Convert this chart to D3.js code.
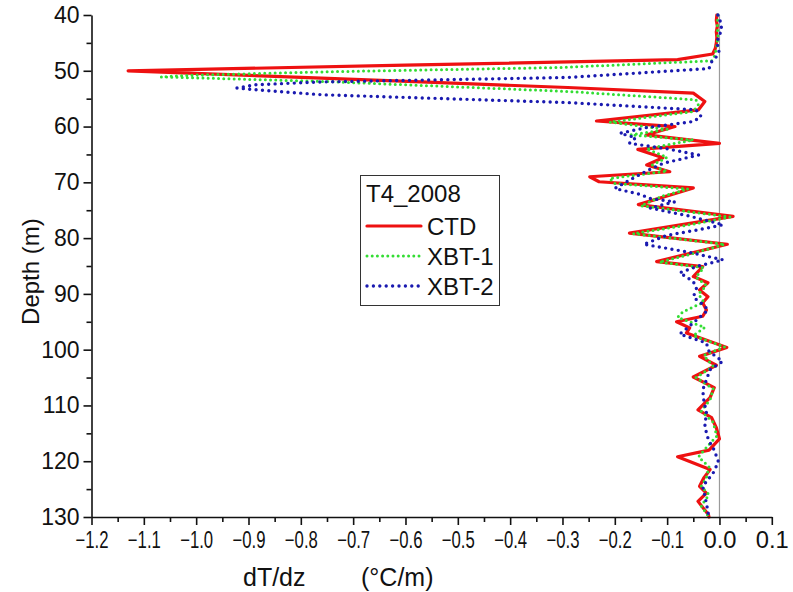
<!DOCTYPE html>
<html>
<head>
<meta charset="utf-8">
<script src="https://cdn.jsdelivr.net/npm/d3@7/dist/d3.min.js"></script>
<style>
  html, body { margin: 0; padding: 0; background: #fff; }
  svg text { font-family: "Liberation Sans", Arial, sans-serif; fill: #111; }
</style>
</head>
<body>
<svg id="chart" width="793" height="592"></svg>
<script>
// Vertical temperature-gradient profiles, station T4, 2008
const depthTicks = [40, 50, 60, 70, 80, 90, 100, 110, 120, 130];
const gradTicks = [-1.2, -1.1, -1.0, -0.9, -0.8, -0.7, -0.6, -0.5, -0.4, -0.3, -0.2, -0.1, 0.0, 0.1];
const seriesNames = ["CTD", "XBT-1", "XBT-2"];
const legendTitle = "T4_2008";

// CTD: depth (m) and dT/dz (°C/m)
const ctdDepth = [40, 41, 42, 43, 44, 45, 46, 47, 48, 49, 50, 51, 52, 53, 54, 55.5, 57, 59, 60, 61.5, 63,
  64.1, 65.6, 66.9, 68.1, 69, 69.9, 71, 74, 76.1, 79.1, 81.1, 84.2, 85.1, 86.9, 88, 89.3, 90.5, 91.6, 92.9, 94,
  95, 96.1, 97, 99.6, 101.2, 102.8, 104.9, 106.8, 108.6, 110.8, 112.2, 114, 116, 118, 119.2, 121.5, 123, 124.5,
  125.7, 127.2, 129.6, 130];
const ctdGrad = [-0.005, -0.006, -0.004, -0.006, -0.005, -0.006, -0.008, -0.013, -0.08, -0.60, -1.13, -0.85, -0.57, -0.29, -0.05, -0.028, -0.04, -0.235, -0.085, -0.14, 0.0,
  -0.156, -0.108, -0.139, -0.095, -0.248, -0.23, -0.05, -0.155, 0.026, -0.172, 0.015, -0.12, -0.032, -0.05, -0.022, -0.038, -0.022, -0.032, -0.025, -0.032,
  -0.082, -0.057, -0.063, 0.014, -0.038, -0.006, -0.05, -0.01, -0.018, -0.041, -0.015, -0.006, 0.0, -0.02, -0.08, -0.018, -0.03, -0.038,
  -0.025, -0.041, -0.021, -0.02];

// XBT-1
const xbt1Depth = [40, 42, 44, 46, 47.5, 48.2, 49.4, 50.2, 50.8, 51.1, 51.9, 53.7, 55.2, 56, 57.3, 59.2, 60.5, 61.5, 62.4,
  64, 65.5, 67, 68, 69.3, 70.2, 71.2, 72.5, 74.2, 76.2, 77.5, 79.2, 81.1, 83, 84.3, 85.3, 87, 88.5, 90, 91.5, 93.2,
  94.2, 96, 97.5, 99.5, 101, 103, 105, 107, 109, 111, 113, 115.5, 117, 119.2, 121, 123, 124.5, 126, 128, 130];
const xbt1Grad = [-0.003, -0.004, -0.003, -0.006, -0.01, -0.015, -0.30, -0.76, -1.01, -1.067, -0.76, -0.29, -0.045, -0.04, -0.05, -0.21, -0.1, -0.17, -0.05,
  -0.14, -0.1, -0.13, -0.1, -0.21, -0.2, -0.06, -0.11, -0.15, 0.02, -0.05, -0.165, 0.01, -0.06, -0.115, -0.03, -0.045, -0.025, -0.04, -0.03, -0.07,
  -0.08, -0.028, -0.05, 0.01, -0.03, -0.012, -0.045, -0.012, -0.018, -0.035, -0.012, -0.005, -0.02, -0.04, -0.02, -0.025, -0.035, -0.02, -0.035, -0.02];

// XBT-2
const xbt2Depth = [40, 41.5, 42.7, 44, 45.1, 46.3, 47.5, 48.4, 49.6, 51.2, 52, 52.5, 53.1, 53.4, 54.3, 55.7, 57, 58.2, 59.1,
  60.2, 61.2, 62, 63, 64, 65.1, 66.6, 68, 69.5, 71.1, 72.2, 72.9, 73.5, 74.6, 76, 77.6, 78.5, 79.5, 81.1, 82.5, 83.9,
  85, 86.2, 87.8, 89, 90.6, 92, 92.9, 94.7, 96, 97.2, 98.8, 100.3, 102.1, 103.6, 105.4, 107.2, 109, 111.3, 113.8,
  116.2, 118, 120.1, 122.1, 124.5, 127.5, 129.6];
const xbt2Grad = [-0.003, 0.003, 0.004, -0.002, -0.005, 0.0, -0.006, -0.015, -0.02, -0.29, -0.76, -0.886, -0.922, -0.886, -0.76, -0.29, -0.045, -0.035, -0.05,
  -0.14, -0.19, -0.16, -0.172, -0.1, -0.04, -0.108, -0.14, -0.17, -0.2, -0.15, -0.133, -0.085, -0.133, -0.06, 0.007, -0.04, -0.1, -0.145, -0.06, 0.007,
  -0.04, -0.076, -0.05, -0.044, -0.05, -0.03, -0.022, -0.044, -0.06, -0.076, -0.025, -0.02, 0.006, -0.018, -0.025, -0.032, -0.03, -0.025, -0.028,
  -0.021, -0.01, -0.002, -0.012, -0.032, -0.025, -0.021];

const svg = d3.select("#chart");
svg.append("rect").attr("width", 793).attr("height", 592).attr("fill", "#fff");

const x = d3.scaleLinear().domain([-1.2, 0.1]).range([91.5, 771.8]);
const y = d3.scaleLinear().domain([40, 130]).range([15, 517]);

// zero reference line
svg.append("line")
  .attr("x1", x(0)).attr("x2", x(0))
  .attr("y1", y(40)).attr("y2", y(130))
  .attr("stroke", "#9a9a9a").attr("stroke-width", 1.2);

const toPts = (ds, vs) => ds.map((d, i) => ({ d, v: vs[i] }));
const line = d3.line().x(p => x(p.v)).y(p => y(p.d));

const styles = [
  { color: "#ee1111", width: 3.2, dash: null },
  { color: "#33dd33", width: 3, dash: "0,5.2" },
  { color: "#1a1ab0", width: 3.4, dash: "0,6.4" }
];
const series = [toPts(ctdDepth, ctdGrad), toPts(xbt1Depth, xbt1Grad), toPts(xbt2Depth, xbt2Grad)];

series.forEach((pts, i) => {
  const s = styles[i];
  const p = svg.append("path")
    .attr("d", line(pts))
    .attr("fill", "none")
    .attr("stroke", s.color)
    .attr("stroke-width", s.width)
    .attr("stroke-linejoin", "round")
    .attr("stroke-linecap", "round");
  if (s.dash) p.attr("stroke-dasharray", s.dash);
});

// axes with major and minor ticks
const yMinor = d3.range(45, 130, 10);
const xMinor = d3.range(-1.15, 0.1, 0.1).map(v => +v.toFixed(2));

const yAxis = svg.append("g").attr("transform", `translate(${x(-1.2)},0)`)
  .call(d3.axisLeft(y).tickValues(depthTicks).tickSize(8).tickSizeOuter(0).tickPadding(4).tickFormat(d3.format("d")));
svg.append("g").attr("transform", `translate(${x(-1.2)},0)`)
  .call(d3.axisLeft(y).tickValues(yMinor).tickSize(5).tickFormat(""))
  .call(g => g.select(".domain").remove());

const xAxis = svg.append("g").attr("transform", `translate(0,${y(130)})`)
  .call(d3.axisBottom(x).tickValues(gradTicks).tickSize(8).tickSizeOuter(0).tickPadding(7).tickFormat(d3.format(".1f")));
svg.append("g").attr("transform", `translate(0,${y(130)})`)
  .call(d3.axisBottom(x).tickValues(xMinor).tickSize(5).tickFormat(""))
  .call(g => g.select(".domain").remove());

svg.selectAll(".domain, .tick line").attr("stroke", "#111").attr("stroke-width", 1.6);
yAxis.selectAll("text").style("font-size", "23px").attr("fill", "#111");
xAxis.selectAll("text").style("font-size", "23px").attr("fill", "#111")
  .attr("textLength", 33).attr("lengthAdjust", "spacingAndGlyphs");

// axis titles
svg.append("text")
  .attr("transform", `translate(39,${y(86)}) rotate(-90)`)
  .attr("text-anchor", "middle")
  .style("font-size", "24px")
  .text("Depth (m)");
svg.append("text").attr("x", 243).attr("y", 586).style("font-size", "25px").text("dT/dz");
svg.append("text").attr("x", 361).attr("y", 586).style("font-size", "25px").text("(°C/m)");

// legend
const lg = svg.append("g");
lg.append("rect").attr("x", 360.5).attr("y", 175.5).attr("width", 139).attr("height", 130)
  .attr("fill", "#fff").attr("stroke", "#333").attr("stroke-width", 1);
lg.append("text").attr("x", 366).attr("y", 202).style("font-size", "24px").text(legendTitle);
seriesNames.forEach((name, i) => {
  const cy = 226 + i * 30;
  const s = styles[i];
  const l = lg.append("line").attr("x1", 367).attr("x2", 421).attr("y1", cy).attr("y2", cy)
    .attr("stroke", s.color).attr("stroke-width", s.width).attr("stroke-linecap", "round");
  if (s.dash) l.attr("stroke-dasharray", s.dash);
  lg.append("text").attr("x", 427).attr("y", cy + 9).style("font-size", "24px").text(name);
});
</script>
</body>
</html>
